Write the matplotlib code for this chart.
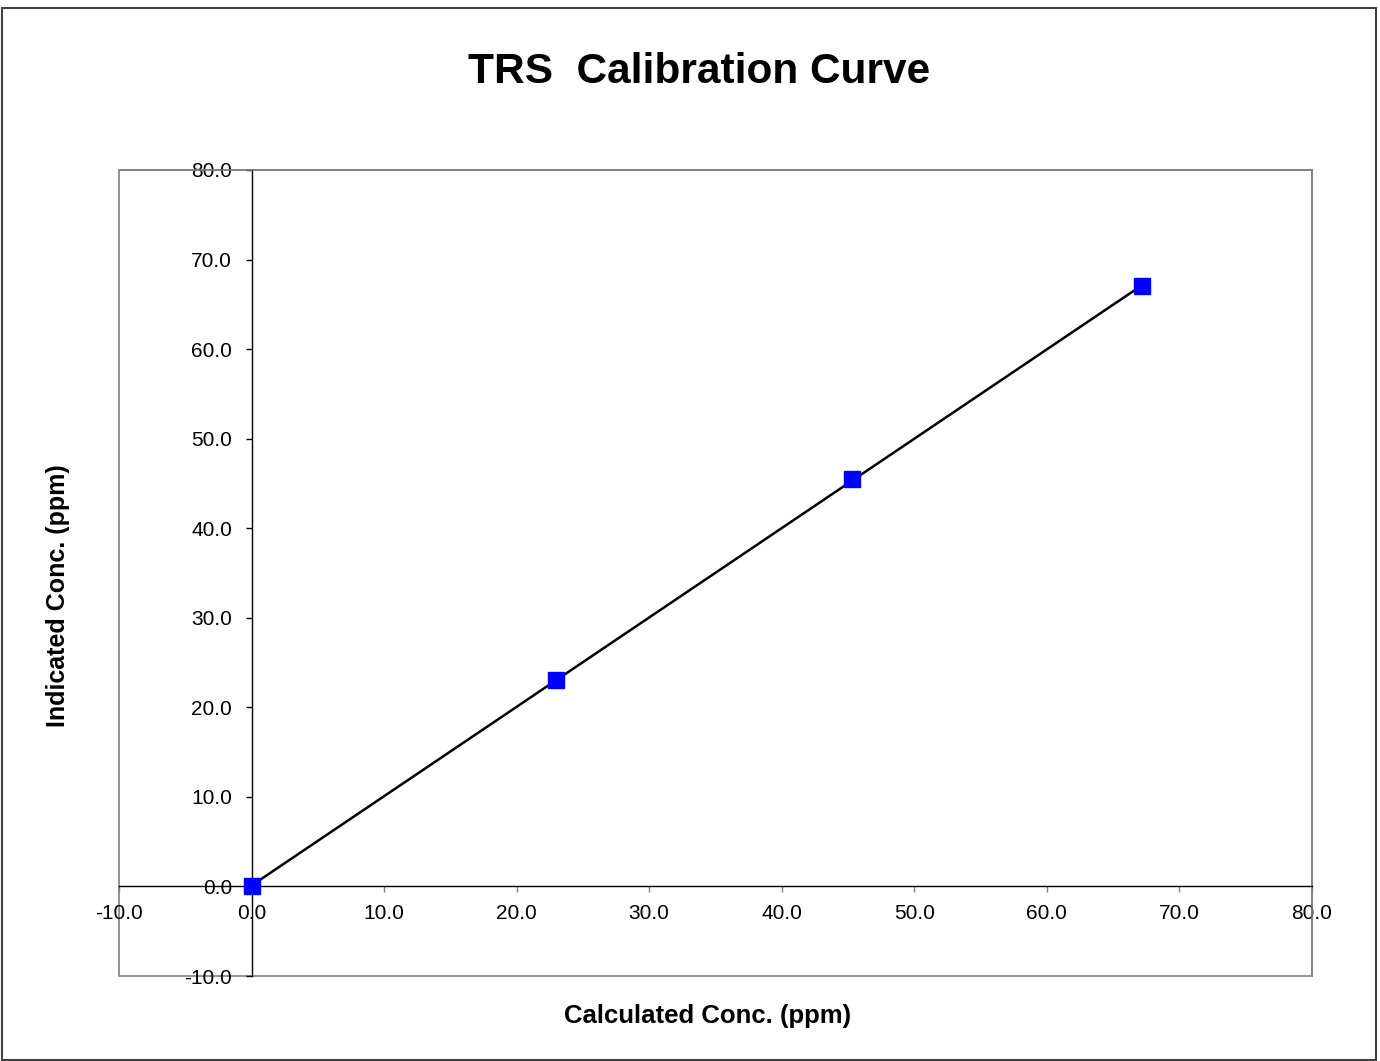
import matplotlib
matplotlib.use("Agg")
import matplotlib.pyplot as plt
from matplotlib.patches import Rectangle
import numpy as np

plt.rcParams['font.family'] = ['Liberation Sans', 'DejaVu Sans']

calculated = [0.0, 23.0, 45.3, 67.2]
indicated = [0.0, 23.1, 45.5, 67.0]
ticks = [-10, 0, 10, 20, 30, 40, 50, 60, 70, 80]
title = "TRS  Calibration Curve"
xlabel = "Calculated Conc. (ppm)"
ylabel = "Indicated Conc. (ppm)"

fig = plt.figure(figsize=(13.8, 10.61), dpi=100)
fig.patches.append(Rectangle((0.0018, 0.001), 0.9955, 0.9915, transform=fig.transFigure,
                             fill=False, edgecolor='#404040', linewidth=1.5))
ax = fig.add_axes([0.0862, 0.0801, 0.8645, 0.7597])

coef = np.polyfit(calculated, indicated, 1)
xs = np.array([min(calculated), max(calculated)])
ax.plot(xs, np.polyval(coef, xs), color='black', linewidth=1.8, zorder=3)
ax.plot(calculated, indicated, linestyle='none', marker='s', markersize=11,
        markerfacecolor='#0000FF', markeredgecolor='#0000FF', zorder=4, clip_on=False)

ax.set_xlim(-10, 80)
ax.set_ylim(-10, 80)
ax.set_xticks(ticks)
ax.set_yticks(ticks)
ax.set_xticklabels([f"{t:.1f}" for t in ticks])
ax.set_yticklabels([f"{t:.1f}" for t in ticks])

for s in ['left', 'bottom']:
    ax.spines[s].set_position(('data', 0))
    ax.spines[s].set_color('black')
    ax.spines[s].set_linewidth(1.0)
for s in ['top', 'right']:
    ax.spines[s].set_color('#808080')
    ax.spines[s].set_linewidth(1.2)
ax.add_patch(Rectangle((0, 0), 1, 1, transform=ax.transAxes, fill=False,
                       edgecolor='#808080', linewidth=1.2, zorder=0, clip_on=False))

ax.tick_params(axis='x', direction='out', length=4, width=1.0, color='#808080',
               labelsize=15, pad=8.4)
ax.tick_params(axis='y', direction='out', length=4.5, width=1.0, color='black',
               labelsize=15, pad=9.5)

fig.text(0.5065, 0.932, title, ha='center', va='center', fontsize=30.5, fontweight='bold')
fig.text(0.5125, 0.0425, xlabel, ha='center', va='center', fontsize=18.5, fontweight='bold')
fig.text(0.042, 0.439, ylabel, ha='center', va='center', rotation=90, fontsize=18, fontweight='bold')

fig.savefig('out.png', dpi=100)
